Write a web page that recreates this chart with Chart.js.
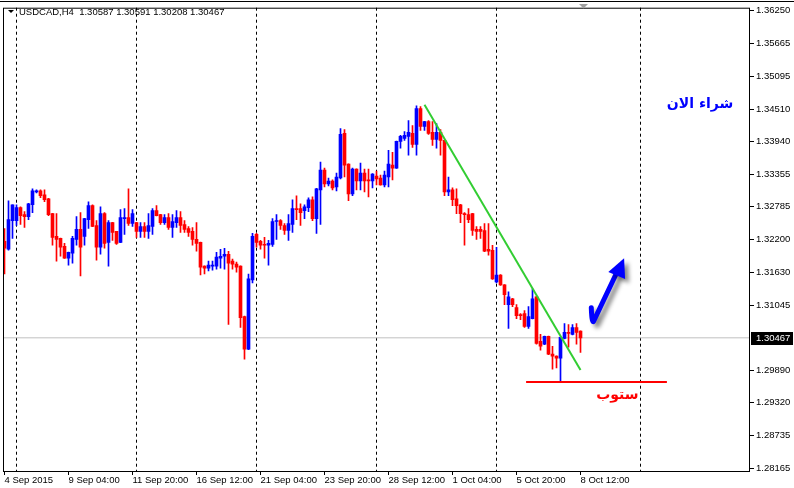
<!DOCTYPE html>
<html>
<head>
<meta charset="utf-8">
<script src="https://cdn.jsdelivr.net/npm/chart.js@4.4.0/dist/chart.umd.min.js"></script>
<style>
  html, body { margin: 0; padding: 0; background: #fff; }
  canvas { display: block; }
</style>
</head>
<body>
<canvas id="chart" width="794" height="488"></canvas>
<script>
const symbol = 'USDCAD,H4';

// H4 bars, 4 Sep 2015 12:00 -> 8 Oct 2015 12:00
const open = [
  1.32173, 1.32033, 1.32540, 1.32540, 1.32768, 1.32645, 1.32610, 1.32820, 1.33048, 1.33065,
  1.32995, 1.32925, 1.32663, 1.32260, 1.32225, 1.32085, 1.31875, 1.31963, 1.32208, 1.32383,
  1.32260, 1.32558, 1.32803, 1.32453, 1.32068, 1.32663, 1.32155, 1.32505, 1.32348, 1.32155,
  1.32575, 1.32593, 1.32488, 1.32505, 1.32348, 1.32435, 1.32348, 1.32435, 1.32715, 1.32645,
  1.32505, 1.32593, 1.32418, 1.32505, 1.32593, 1.32470, 1.32400, 1.32348, 1.32208, 1.32155,
  1.31735, 1.31700, 1.31735, 1.31735, 1.31875, 1.31910, 1.31945, 1.31823, 1.31770, 1.31735,
  1.30843, 1.30265, 1.31490, 1.32295, 1.32173, 1.32120, 1.32103, 1.32120, 1.32523, 1.32540,
  1.32453, 1.32365, 1.32470, 1.32750, 1.32750, 1.32715, 1.32768, 1.32908, 1.32575, 1.33083,
  1.33433, 1.33188, 1.33240, 1.33135, 1.33293, 1.34080, 1.33538, 1.33013, 1.33450, 1.33240,
  1.33380, 1.33258, 1.33240, 1.33328, 1.33293, 1.33170, 1.33310, 1.33520, 1.33468, 1.33940,
  1.33993, 1.34028, 1.34080, 1.33888, 1.34518, 1.34203, 1.34290, 1.34098, 1.33975, 1.34098,
  1.33958, 1.33048, 1.33083, 1.32925, 1.32820, 1.32663, 1.32645, 1.32663, 1.32383, 1.32383,
  1.32365, 1.32033, 1.32015, 1.31455, 1.31578, 1.31403, 1.31053, 1.31158, 1.31000, 1.30878,
  1.30895, 1.30668, 1.30808, 1.31193, 1.30405, 1.30353, 1.30493, 1.30178, 1.30143, 1.30108,
  1.30458, 1.30563, 1.30528, 1.30650, 1.30587
];
const high = [
  1.32400, 1.32890, 1.32820, 1.32820, 1.32785, 1.32698, 1.32845, 1.33100, 1.33083, 1.33083,
  1.33083, 1.32935, 1.32670, 1.32663, 1.32230, 1.32138, 1.31985, 1.32260, 1.32610, 1.32680,
  1.32580, 1.32873, 1.32820, 1.32540, 1.32785, 1.32680, 1.32540, 1.32510, 1.32350, 1.32733,
  1.32750, 1.33100, 1.32733, 1.32510, 1.32505, 1.32505, 1.32663, 1.32750, 1.32803, 1.32650,
  1.32645, 1.32663, 1.32645, 1.32715, 1.32698, 1.32540, 1.32435, 1.32418, 1.32505, 1.32160,
  1.31740, 1.31823, 1.31823, 1.31980, 1.32033, 1.32050, 1.31998, 1.31858, 1.31805, 1.31740,
  1.30850, 1.31595, 1.32313, 1.32313, 1.32190, 1.32243, 1.32190, 1.32575, 1.32645, 1.32558,
  1.32488, 1.32645, 1.32908, 1.32978, 1.32838, 1.32820, 1.32943, 1.32960, 1.33110, 1.33573,
  1.33468, 1.33293, 1.33258, 1.33380, 1.34168, 1.34150, 1.33545, 1.33468, 1.33455, 1.33555,
  1.33450, 1.33450, 1.33370, 1.33415, 1.33345, 1.33415, 1.33783, 1.33748, 1.33945, 1.34045,
  1.34115, 1.34308, 1.34220, 1.34570, 1.34553, 1.34295, 1.34308, 1.34290, 1.34255, 1.34150,
  1.33965, 1.33310, 1.33118, 1.33100, 1.32825, 1.32680, 1.32750, 1.32670, 1.32435, 1.32435,
  1.32488, 1.32488, 1.32103, 1.32068, 1.31585, 1.31410, 1.31280, 1.31165, 1.31053, 1.30895,
  1.30948, 1.31018, 1.31333, 1.31200, 1.30528, 1.30500, 1.30500, 1.30318, 1.30150, 1.30480,
  1.30720, 1.30703, 1.30703, 1.30720, 1.30591
];
const low = [
  1.31595, 1.32015, 1.32225, 1.32453, 1.32470, 1.32418, 1.32558, 1.32680, 1.33030, 1.32943,
  1.32873, 1.32628, 1.32103, 1.31823, 1.31910, 1.31870, 1.31753, 1.31788, 1.32103, 1.31560,
  1.32103, 1.32400, 1.32430, 1.31840, 1.31945, 1.32050, 1.31735, 1.32190, 1.32120, 1.32150,
  1.32295, 1.32453, 1.32435, 1.32243, 1.32243, 1.32243, 1.32225, 1.32295, 1.32620, 1.32470,
  1.32470, 1.32383, 1.32243, 1.32418, 1.32330, 1.32330, 1.32260, 1.32103, 1.31998, 1.31578,
  1.31595, 1.31648, 1.31665, 1.31683, 1.31700, 1.31683, 1.30703, 1.31683, 1.31630, 1.30650,
  1.30090, 1.30260, 1.31438, 1.32068, 1.32033, 1.31875, 1.31753, 1.32085, 1.32208, 1.32383,
  1.32295, 1.32190, 1.32330, 1.32558, 1.32453, 1.32575, 1.32698, 1.32540, 1.32313, 1.32470,
  1.33135, 1.33153, 1.33083, 1.33065, 1.33275, 1.33310, 1.32890, 1.32978, 1.33083, 1.33083,
  1.33048, 1.32960, 1.33118, 1.33170, 1.33165, 1.33135, 1.33135, 1.33258, 1.33460, 1.33818,
  1.33958, 1.33695, 1.33835, 1.33695, 1.34133, 1.34133, 1.34063, 1.33870, 1.33818, 1.33695,
  1.32978, 1.32978, 1.32803, 1.32663, 1.32505, 1.32103, 1.32505, 1.32278, 1.32208, 1.32225,
  1.31990, 1.31928, 1.31500, 1.31438, 1.31395, 1.31053, 1.30633, 1.31018, 1.30808, 1.30790,
  1.30650, 1.30633, 1.30800, 1.30353, 1.30248, 1.30345, 1.30170, 1.29915, 1.29933, 1.29705,
  1.30450, 1.30300, 1.30520, 1.30353, 1.30208
];
const close = [
  1.32050, 1.32558, 1.32820, 1.32768, 1.32628, 1.32610, 1.32838, 1.33065, 1.33065, 1.32978,
  1.32908, 1.32645, 1.32243, 1.32208, 1.32068, 1.31875, 1.31980, 1.32225, 1.32383, 1.32068,
  1.32575, 1.32803, 1.32435, 1.32068, 1.32663, 1.32138, 1.32505, 1.32330, 1.32138, 1.32593,
  1.32593, 1.32488, 1.32663, 1.32348, 1.32435, 1.32348, 1.32453, 1.32715, 1.32628, 1.32505,
  1.32593, 1.32418, 1.32523, 1.32593, 1.32453, 1.32383, 1.32330, 1.32208, 1.32138, 1.31718,
  1.31700, 1.31753, 1.31753, 1.31893, 1.31910, 1.31945, 1.31788, 1.31770, 1.31718, 1.30825,
  1.30265, 1.31508, 1.32260, 1.32155, 1.32103, 1.32103, 1.32138, 1.32523, 1.32540, 1.32453,
  1.32365, 1.32488, 1.32750, 1.32733, 1.32680, 1.32785, 1.32908, 1.32575, 1.33100, 1.33433,
  1.33188, 1.33240, 1.33118, 1.33310, 1.34063, 1.33520, 1.33013, 1.33450, 1.33240, 1.33380,
  1.33240, 1.33240, 1.33363, 1.33275, 1.33170, 1.33345, 1.33538, 1.33468, 1.33940, 1.34028,
  1.34045, 1.34098, 1.33888, 1.34518, 1.34203, 1.34290, 1.34080, 1.33975, 1.34098, 1.33958,
  1.33048, 1.33083, 1.32908, 1.32803, 1.32663, 1.32645, 1.32558, 1.32365, 1.32348, 1.32348,
  1.31998, 1.31998, 1.31508, 1.31578, 1.31403, 1.31228, 1.31193, 1.31053, 1.30860, 1.30860,
  1.30668, 1.30843, 1.31158, 1.30370, 1.30318, 1.30493, 1.30178, 1.30143, 1.30108, 1.30475,
  1.30563, 1.30545, 1.30650, 1.30563, 1.30467
];

const xTickIdx = [0, 16, 32, 48, 64, 80, 96, 112, 128, 144];
const xLabels = ['4 Sep 2015', '9 Sep 04:00', '11 Sep 20:00', '16 Sep 12:00', '21 Sep 04:00',
  '23 Sep 20:00', '28 Sep 12:00', '1 Oct 04:00', '5 Oct 20:00', '8 Oct 12:00'];
const priceTicks = [1.36250, 1.35665, 1.35095, 1.34510, 1.33940, 1.33355, 1.32785, 1.32200,
  1.31630, 1.31045, 1.29890, 1.29320, 1.28735, 1.28165];
const weekStarts = [3, 33, 63, 93, 123, 159];

// drawn objects (bar index / price)
const trendX = [105, 144];
const trendY = [1.34588, 1.29898];
const stopX = [130.4, 165.6];
const stopY = [1.29688, 1.29688];
const arrowX = [146.7, 147.25, 152.9];
const arrowY = [1.31000, 1.30755, 1.31595];
const headX = [154.9, 150.95, 155.15];
const headY = [1.31875, 1.31630, 1.31508];
const buyText = 'شراء الان';
const buyPos = [173.9, 1.34588];
const stopText = 'ستوب';
const stopPos = [153.2, 1.29443];

const n = open.length;
const idx = open.map((_, i) => i);
const candleColor = idx.map(i => close[i] >= open[i] ? '#0000ff' : '#ff0000');
const xMin = -0.375, xMax = 186.375;
const yMin = 1.28113, yMax = 1.36303;

Chart.defaults.font.family = '"Liberation Sans", Arial, sans-serif';
Chart.defaults.font.size = 9.5;
Chart.defaults.color = '#000';

const overlay = {
  id: 'overlay',
  beforeDatasetsDraw(chart) {
    const { ctx, chartArea: a, scales: { x } } = chart;
    ctx.save();
    ctx.strokeStyle = '#000';
    ctx.lineWidth = 1;
    ctx.setLineDash([3, 3]);
    weekStarts.forEach(w => {
      const px = Math.floor(x.getPixelForValue(w)) + 0.5;
      ctx.beginPath();
      ctx.moveTo(px, a.top);
      ctx.lineTo(px, a.bottom);
      ctx.stroke();
    });
    ctx.restore();
  },
  afterDraw(chart) {
    const { ctx, chartArea: a, scales: { x, y } } = chart;
    const px = v => x.getPixelForValue(v);
    const py = v => y.getPixelForValue(v);
    ctx.save();

    // frame
    ctx.strokeStyle = '#000';
    ctx.lineWidth = 1;
    ctx.strokeRect(a.left + 0.5, a.top + 0.5, a.right - a.left - 1, a.bottom - a.top);
    ctx.beginPath();
    ctx.moveTo(0, 1.5);
    ctx.lineTo(chart.width, 1.5);
    ctx.stroke();

    // header
    ctx.fillStyle = '#000';
    ctx.beginPath();
    ctx.moveTo(8, 10);
    ctx.lineTo(14, 10);
    ctx.lineTo(11, 13);
    ctx.closePath();
    ctx.fill();
    ctx.font = '9.5px "Liberation Sans", Arial, sans-serif';
    ctx.textBaseline = 'alphabetic';
    ctx.textAlign = 'left';
    const last = n - 1;
    const hdr = symbol + '  ' + [open[last], high[last], low[last], close[last]].map(v => v.toFixed(5)).join(' ');
    ctx.fillText(hdr, 19, 15);

    // shift marker
    ctx.fillStyle = '#a0a0a0';
    ctx.beginPath();
    ctx.moveTo(579, 4);
    ctx.lineTo(588, 4);
    ctx.lineTo(583.5, 8.5);
    ctx.closePath();
    ctx.fill();

    // current price label
    const cy = Math.round(py(close[last]));
    ctx.fillStyle = '#000';
    ctx.fillRect(a.right + 1, cy - 6, chart.width - a.right - 2, 13);
    ctx.fillStyle = '#fff';
    ctx.textBaseline = 'middle';
    ctx.fillText(close[last].toFixed(5), a.right + 6, cy + 0.5);

    // arrow
    ctx.shadowColor = 'rgba(0,0,0,0.45)';
    ctx.shadowBlur = 4;
    ctx.shadowOffsetX = 4;
    ctx.shadowOffsetY = 4;
    ctx.strokeStyle = '#0000ff';
    ctx.fillStyle = '#0000ff';
    ctx.lineWidth = 5;
    ctx.lineCap = 'round';
    ctx.lineJoin = 'round';
    ctx.beginPath();
    ctx.moveTo(px(arrowX[0]), py(arrowY[0]));
    ctx.quadraticCurveTo(px(arrowX[0]) + 0.5, py(arrowY[1]) + 1, px(arrowX[1]), py(arrowY[1]));
    ctx.lineTo(px(arrowX[2]), py(arrowY[2]));
    ctx.stroke();
    ctx.beginPath();
    ctx.moveTo(px(headX[0]), py(headY[0]));
    ctx.lineTo(px(headX[1]), py(headY[1]));
    ctx.lineTo(px(headX[2]), py(headY[2]));
    ctx.closePath();
    ctx.fill();
    ctx.shadowColor = 'transparent';

    // arabic notes
    ctx.textAlign = 'center';
    ctx.textBaseline = 'middle';
    ctx.font = 'bold 14px "DejaVu Sans", sans-serif';
    ctx.fillStyle = '#0000ff';
    ctx.fillText(buyText, px(buyPos[0]), py(buyPos[1]));
    ctx.fillStyle = '#ff0000';
    ctx.fillText(stopText, px(stopPos[0]), py(stopPos[1]));

    ctx.restore();
  }
};

new Chart(document.getElementById('chart'), {
  type: 'bar',
  data: {
    datasets: [
      {
        type: 'line',
        data: trendX.map((v, k) => ({ x: v, y: trendY[k] })),
        borderColor: '#32cd32',
        borderWidth: 2,
        pointRadius: 0,
        order: 0
      },
      {
        type: 'line',
        data: stopX.map((v, k) => ({ x: v, y: stopY[k] })),
        borderColor: '#ff0000',
        borderWidth: 2,
        pointRadius: 0,
        order: 0
      },
      {
        data: idx.map(i => ({ x: i, y: [open[i], close[i]] })),
        backgroundColor: candleColor,
        barThickness: 3,
        minBarLength: 1,
        grouped: false,
        order: 1
      },
      {
        data: idx.map(i => ({ x: i, y: [low[i], high[i]] })),
        backgroundColor: candleColor,
        barThickness: 1,
        grouped: false,
        order: 2
      },
      {
        type: 'line',
        data: [{ x: xMin, y: close[n - 1] }, { x: xMax, y: close[n - 1] }],
        borderColor: '#c0c0c0',
        borderWidth: 1,
        pointRadius: 0,
        order: 3
      }
    ]
  },
  options: {
    responsive: false,
    animation: false,
    devicePixelRatio: 1,
    layout: { padding: { left: 3, top: 3, right: 0, bottom: 0 } },
    plugins: { legend: { display: false }, tooltip: { enabled: false } },
    scales: {
      x: {
        type: 'linear',
        position: 'bottom',
        min: xMin,
        max: xMax,
        offset: false,
        border: { display: false },
        grid: { offset: false, drawOnChartArea: false, drawTicks: true, tickLength: 4, color: '#000' },
        ticks: {
          autoSkip: false,
          maxRotation: 0,
          align: 'start',
          padding: 0,
          callback: v => xLabels[xTickIdx.indexOf(Math.round(v))] || ''
        },
        afterBuildTicks: s => { s.ticks = xTickIdx.map(v => ({ value: v })); },
        afterFit: s => { s.height = 17; }
      },
      y: {
        type: 'linear',
        position: 'right',
        min: yMin,
        max: yMax,
        border: { display: false },
        grid: { drawOnChartArea: false, drawTicks: true, tickLength: 4, color: '#000' },
        ticks: { padding: 2, callback: v => v.toFixed(5) },
        afterBuildTicks: s => { s.ticks = priceTicks.map(v => ({ value: v })); },
        afterFit: s => { s.width = 44; }
      }
    }
  },
  plugins: [overlay]
});
</script>
</body>
</html>
